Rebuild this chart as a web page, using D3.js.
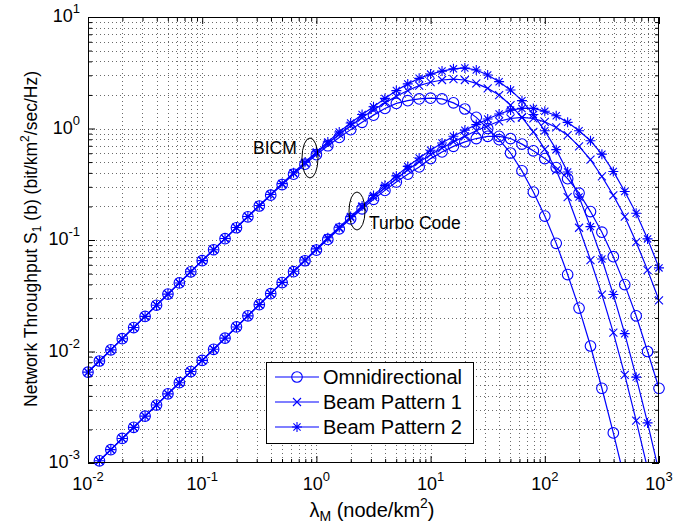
<!DOCTYPE html>
<html><head><meta charset="utf-8">
<script src="https://cdn.jsdelivr.net/npm/d3@7"></script>
<style>
body{margin:0;background:#fff}
text{font-family:"Liberation Sans",Arial,Helvetica,sans-serif;fill:#000}
</style>
</head><body><svg id="c" width="700" height="527"></svg>
<script>
// lambda_M sample grid (node/km^2)
const lambda = [0.01,0.01259,0.01585,0.01995,0.02512,0.03162,0.03981,0.05012,0.0631,0.07943,
 0.1,0.1259,0.1585,0.1995,0.2512,0.3162,0.3981,0.5012,0.631,0.7943,
 1,1.259,1.585,1.995,2.512,3.162,3.981,5.012,6.31,7.943,
 10,12.59,15.85,19.95,25.12,31.62,39.81,50.12,63.1,79.43,
 100,125.9,158.5,199.5,251.2,316.2,398.1,501.2,631,794.3,1000];

const bicmOmni = [0.00653,0.00822,0.01035,0.01303,0.0164,0.02065,0.026,0.03273,0.0412,0.05187,
 0.0653,0.0818,0.1028,0.1288,0.1614,0.2018,0.2523,0.3141,0.389,0.4786,
 0.582,0.700,0.832,0.977,1.135,1.318,1.514,1.679,1.778,1.841,
 1.871,1.841,1.698,1.496,1.259,1.0,0.794,0.603,0.417,0.269,
 0.164,0.0933,0.049,0.0245,0.0112,0.00468,0.00186,0.000708,0.000251,0.0000891,0.0000316];
const bicmBP1 = [0.00653,0.00822,0.01035,0.01303,0.0164,0.02065,0.026,0.03273,0.0412,0.05187,
 0.0653,0.0818,0.1029,0.1291,0.1622,0.2032,0.2541,0.3177,0.3954,0.4898,
 0.6026,0.7328,0.8872,1.059,1.253,1.462,1.698,1.950,2.188,2.427,
 2.600,2.723,2.773,2.723,2.541,2.291,1.995,1.622,1.259,0.933,
 0.653,0.4217,0.2427,0.1288,0.0661,0.0324,0.01479,0.00617,0.0024,0.000891,0.000316];
const bicmBP2 = [0.00653,0.00822,0.01035,0.01303,0.0164,0.02065,0.026,0.03273,0.0412,0.05187,
 0.0653,0.0818,0.1030,0.1294,0.1626,0.2042,0.2559,0.3206,0.4009,0.4989,
 0.6166,0.7586,0.929,1.122,1.334,1.567,1.862,2.188,2.512,2.818,
 3.076,3.273,3.428,3.491,3.350,3.020,2.630,2.213,1.778,1.334,
 0.955,0.646,0.407,0.2427,0.1318,0.0676,0.0324,0.01445,0.00589,0.00229,0.000832];
const turboOmni = [0.000832,0.001047,0.001318,0.00166,0.002089,0.00263,0.003311,0.004169,0.005248,0.006607,
 0.008318,0.01047,0.01318,0.0166,0.02089,0.0263,0.03304,0.0415,0.052,0.06516,
 0.08128,0.1012,0.1259,0.1549,0.1905,0.2317,0.2786,0.3311,0.389,0.4519,
 0.537,0.6166,0.6918,0.7586,0.8128,0.8511,0.8511,0.8128,0.7244,0.631,
 0.537,0.4467,0.3548,0.263,0.1799,0.1175,0.0708,0.0398,0.0209,0.01,0.00468];
const turboBP1 = [0.000832,0.001047,0.001318,0.00166,0.002089,0.00263,0.003311,0.004169,0.005248,0.006607,
 0.008318,0.01047,0.01318,0.0166,0.02089,0.0263,0.03311,0.04169,0.05236,0.06561,
 0.08222,0.1023,0.1274,0.1585,0.1972,0.2427,0.2951,0.3548,0.4266,0.5012,
 0.5821,0.6683,0.7586,0.8511,0.955,1.059,1.161,1.230,1.259,1.230,
 1.148,1.023,0.871,0.6918,0.5248,0.3715,0.2512,0.1622,0.0955,0.0537,0.0288];
const turboBP2 = [0.000832,0.001047,0.001318,0.00166,0.002089,0.00263,0.003311,0.004169,0.005248,0.006607,
 0.008318,0.01047,0.01318,0.0166,0.02089,0.0263,0.03311,0.04169,0.05248,0.06607,
 0.08318,0.1047,0.1303,0.1622,0.2018,0.2512,0.309,0.3758,0.4571,0.5433,
 0.6383,0.7413,0.8511,0.9661,1.084,1.216,1.349,1.462,1.514,1.514,
 1.429,1.303,1.135,0.955,0.7762,0.5888,0.4121,0.2723,0.1738,0.1023,0.0562];

const xTickExp = [-2,-1,0,1,2,3];
const yTickExp = [-3,-2,-1,0,1];
const legendLabels = ["Omnidirectional","Beam Pattern 1","Beam Pattern 2"];
const markerTypes = ["circle","x","star"];
const annotations = [{text:"BICM"},{text:"Turbo Code"}];

const series = [
  {vals:bicmOmni, m:"circle"},{vals:bicmBP1, m:"x"},{vals:bicmBP2, m:"star"},
  {vals:turboOmni, m:"circle"},{vals:turboBP1, m:"x"},{vals:turboBP2, m:"star"}
];

const L=88, R=659, T=17, B=463;
const blue = "#0000ff";
const svg = d3.select("#c");
const x = d3.scaleLog().domain([0.01,1000]).range([L,R]);
const y = d3.scaleLog().domain([0.001,10]).range([B,T]);

// ticks
const majX = xTickExp.map(e=>Math.pow(10,e));
const majY = yTickExp.map(e=>Math.pow(10,e));
const minX=[], minY=[];
for(let e=-2;e<3;e++) for(let m=2;m<=9;m++) minX.push(m*Math.pow(10,e));
for(let e=-3;e<1;e++) for(let m=2;m<=9;m++) minY.push(m*Math.pow(10,e));

// grid
const grid = svg.append("g").attr("stroke","#6a6a6a").attr("stroke-width",1).attr("stroke-dasharray","1,3");
[...majX.slice(1,-1),...minX].forEach(v=>{
  grid.append("line").attr("x1",Math.round(x(v))+0.5).attr("x2",Math.round(x(v))+0.5).attr("y1",T).attr("y2",B);
});
[...majY.slice(1,-1),...minY].forEach(v=>{
  grid.append("line").attr("y1",Math.round(y(v))+0.5).attr("y2",Math.round(y(v))+0.5).attr("x1",L).attr("x2",R);
});

// axes ticks (inward) on all four sides
function ax(gen, vals, size, tr){
  const g = svg.append("g").attr("transform",tr).call(gen.tickValues(vals).tickSize(size).tickFormat(""));
  g.select(".domain").remove();
  g.selectAll("line").attr("stroke","#000").attr("stroke-width",1);
}
ax(d3.axisBottom(x), majX, -7, `translate(0,${B})`);
ax(d3.axisBottom(x), minX, -4, `translate(0,${B})`);
ax(d3.axisTop(x), majX, -7, `translate(0,${T})`);
ax(d3.axisTop(x), minX, -4, `translate(0,${T})`);
ax(d3.axisLeft(y), majY, -7, `translate(${L},0)`);
ax(d3.axisLeft(y), minY, -4, `translate(${L},0)`);
ax(d3.axisRight(y), majY, -7, `translate(${R},0)`);
ax(d3.axisRight(y), minY, -4, `translate(${R},0)`);

// clip
svg.append("clipPath").attr("id","clip").append("rect").attr("x",L).attr("y",T).attr("width",R-L).attr("height",B-T);

// series lines
const line = d3.line().x((d,i)=>x(lambda[i])).y(d=>y(d));
const lg = svg.append("g").attr("clip-path","url(#clip)");
series.forEach(s=>{
  lg.append("path").attr("d",line(s.vals)).attr("fill","none").attr("stroke",blue).attr("stroke-width",1.2);
});

function drawMarker(g, type, cx, cy){
  if(type==="circle"){
    g.append("circle").attr("cx",cx).attr("cy",cy).attr("r",5.3).attr("fill","none").attr("stroke",blue).attr("stroke-width",1.1);
  } else if(type==="x"){
    const s=4;
    g.append("path").attr("d",`M${cx-s},${cy-s}L${cx+s},${cy+s}M${cx-s},${cy+s}L${cx+s},${cy-s}`).attr("stroke",blue).attr("stroke-width",1.1).attr("fill","none");
  } else {
    const s=5, d=3.6;
    g.append("path").attr("d",`M${cx-s},${cy}L${cx+s},${cy}M${cx},${cy-s}L${cx},${cy+s}M${cx-d},${cy-d}L${cx+d},${cy+d}M${cx-d},${cy+d}L${cx+d},${cy-d}`).attr("stroke",blue).attr("stroke-width",1.1).attr("fill","none");
  }
}
const mg = svg.append("g");
series.forEach(s=>{
  s.vals.forEach((v,i)=>{
    if(v>=0.001 && v<=10){ drawMarker(mg, s.m, x(lambda[i]), y(v)); }
  });
});

// box
svg.append("rect").attr("x",L+0.5).attr("y",T+0.5).attr("width",R-L-1).attr("height",B-T-1)
  .attr("fill","none").attr("stroke","#000").attr("stroke-width",1);

// tick labels
xTickExp.forEach(e=>{
  const t = svg.append("text").attr("x",x(Math.pow(10,e))).attr("y",490).attr("text-anchor","middle").attr("font-size",18);
  t.append("tspan").text("10");
  t.append("tspan").attr("dy",-9).attr("font-size",13).text(String(e));
});
yTickExp.forEach(e=>{
  const t = svg.append("text").attr("x",80).attr("y",y(Math.pow(10,e))+5).attr("text-anchor","end").attr("font-size",18);
  t.append("tspan").text("10");
  t.append("tspan").attr("dy",-9).attr("font-size",13).text(String(e));
});

// axis labels
const xl = svg.append("text").attr("x",372).attr("y",517).attr("text-anchor","middle").attr("font-size",20);
xl.append("tspan").text("λ");
xl.append("tspan").attr("dy",4).attr("font-size",14).text("M");
xl.append("tspan").attr("dy",-4).text(" (node/km");
xl.append("tspan").attr("dy",-9).attr("font-size",14).text("2");
xl.append("tspan").attr("dy",9).text(")");

const yl = svg.append("text").attr("transform","translate(37,239) rotate(-90)").attr("text-anchor","middle").attr("font-size",17.5);
yl.append("tspan").text("Network Throughput S");
yl.append("tspan").attr("dy",4).attr("font-size",12).text("1");
yl.append("tspan").attr("dy",-4).text(" (b) (bit/km");
yl.append("tspan").attr("dy",-8).attr("font-size",12).text("2");
yl.append("tspan").attr("dy",8).text("/sec/Hz)");

// annotations
svg.append("text").attr("x",253).attr("y",154).attr("font-size",17.5).text(annotations[0].text);
svg.append("ellipse").attr("cx",310).attr("cy",158).attr("rx",8).attr("ry",20).attr("fill","none").attr("stroke","#000").attr("stroke-width",1);
svg.append("text").attr("x",369).attr("y",229).attr("font-size",17.5).text(annotations[1].text);
svg.append("ellipse").attr("cx",357).attr("cy",211).attr("rx",8).attr("ry",19).attr("fill","none").attr("stroke","#000").attr("stroke-width",1);

// legend
const leg = svg.append("g");
leg.append("rect").attr("x",266.5).attr("y",362.5).attr("width",207).attr("height",81).attr("fill","#fff").attr("stroke","#000").attr("stroke-width",1);
legendLabels.forEach((lab,i)=>{
  const yy = 377 + i*25;
  leg.append("line").attr("x1",275).attr("x2",319).attr("y1",yy).attr("y2",yy).attr("stroke",blue).attr("stroke-width",1.2);
  drawMarker(leg, markerTypes[i], 297, yy);
  leg.append("text").attr("x",323).attr("y",yy+7).attr("font-size",20).text(lab);
});
</script></body></html>
